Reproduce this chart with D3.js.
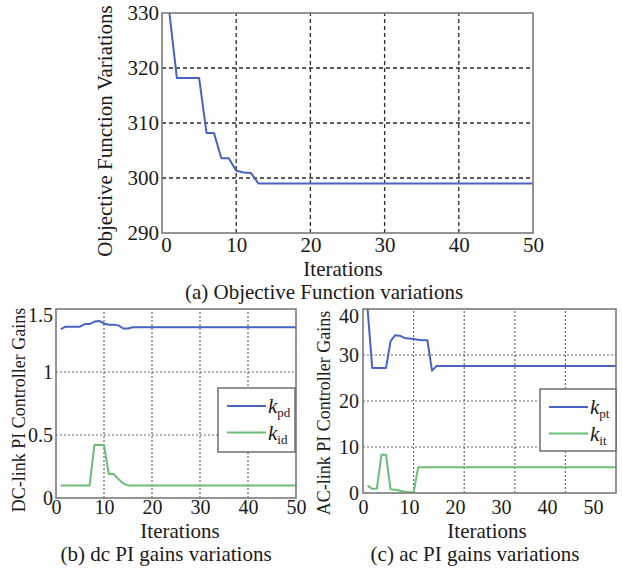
<!DOCTYPE html>
<html><head><meta charset="utf-8">
<script src="https://cdn.jsdelivr.net/npm/d3@7"></script>
<style>
html,body{margin:0;padding:0;background:#fff;}
svg{display:block;font-family:"Liberation Serif","Times New Roman",serif;}
</style></head>
<body>
<svg id="c" width="622" height="570"></svg>
<script>
// ---------- data ----------
const objIter = d3.range(1, 51);
const objective = [330,318.2,318.2,318.2,318.2,308.2,308.2,303.6,303.6,301.3,301.0,300.9,
 299,299,299,299,299,299,299,299,299,299,299,299,299,299,299,299,299,299,299,299,299,299,299,299,299,299,299,299,299,299,299,299,299,299,299,299,299,299];
const objYTicks = [290,300,310,320,330];
const objXTicks = [0,10,20,30,40,50];

const dcIter = d3.range(1, 51);
const kpd = [1.34,1.36,1.36,1.36,1.36,1.38,1.38,1.40,1.405,1.385,1.375,1.375,1.37,1.345,1.345,
 1.355,1.355,1.355,1.355,1.355,1.355,1.355,1.355,1.355,1.355,1.355,1.355,1.355,1.355,1.355,1.355,1.355,1.355,1.355,1.355,
 1.355,1.355,1.355,1.355,1.355,1.355,1.355,1.355,1.355,1.355,1.355,1.355,1.355,1.355,1.355];
const kid = [0.1,0.1,0.1,0.1,0.1,0.1,0.1,0.42,0.42,0.42,0.19,0.19,0.15,0.115,
 0.1,0.1,0.1,0.1,0.1,0.1,0.1,0.1,0.1,0.1,0.1,0.1,0.1,0.1,0.1,0.1,0.1,0.1,0.1,0.1,0.1,0.1,
 0.1,0.1,0.1,0.1,0.1,0.1,0.1,0.1,0.1,0.1,0.1,0.1,0.1,0.1];
const dcYTicks = [0,0.5,1,1.5];
const dcYLabels = ["0","0.5","1","1.5"];
const dcXTicks = [0,10,20,30,40,50];

const acIter = d3.range(1, 56);
const kpt = [40,27.2,27.2,27.2,27.2,33,34.3,34.2,33.7,33.6,33.5,33.3,33.2,33.2,26.6,
 27.6,27.6,27.6,27.6,27.6,27.6,27.6,27.6,27.6,27.6,27.6,27.6,27.6,27.6,27.6,27.6,27.6,27.6,27.6,27.6,
 27.6,27.6,27.6,27.6,27.6,27.6,27.6,27.6,27.6,27.6,27.6,27.6,27.6,27.6,27.6,27.6,27.6,27.6,27.6,27.6];
const kit = [1.6,0.9,0.9,8.3,8.3,0.8,0.7,0.5,0.3,0.15,0.15,
 5.6,5.6,5.6,5.6,5.6,5.6,5.6,5.6,5.6,5.6,5.6,5.6,5.6,5.6,5.6,5.6,5.6,5.6,5.6,5.6,5.6,5.6,
 5.6,5.6,5.6,5.6,5.6,5.6,5.6,5.6,5.6,5.6,5.6,5.6,5.6,5.6,5.6,5.6,5.6,5.6,5.6,5.6,5.6,5.6];
const acYTicks = [0,10,20,30,40];
const acXTicks = [0,10,20,30,40,50];
const acGridTicks = [10,20,30,40]; // grid drawn on the original 0-50 axis

const blue = "#4763c4", green = "#6dbd78";
const svg = d3.select("#c");

function frame(g, x, y){
  const [x0,x1] = x.range(), [y0,y1] = y.range();
  g.append("rect").attr("x",x0).attr("y",y1).attr("width",x1-x0).attr("height",y0-y1)
   .attr("fill","none").attr("stroke","#7a7a7a").attr("stroke-width",1.6);
}
function gridV(g, xs, vals, y, style){
  g.selectAll(null).data(vals).join("line")
   .attr("x1",d=>xs(d)).attr("x2",d=>xs(d)).attr("y1",y.range()[0]).attr("y2",y.range()[1])
   .attr("stroke",style.c).attr("stroke-width",style.w).attr("stroke-dasharray",style.d);
}
function gridH(g, x, vals, y, style){
  g.selectAll(null).data(vals).join("line")
   .attr("x1",x.range()[0]).attr("x2",x.range()[1]).attr("y1",d=>y(d)).attr("y2",d=>y(d))
   .attr("stroke",style.c).attr("stroke-width",style.w).attr("stroke-dasharray",style.d);
}
function axes(g, x, y, xt, yt, fs, xpad, ypad, yfmt, topShift, firstXShift){
  const ax = g.append("g").attr("transform",`translate(0,${y.range()[0]})`)
    .call(d3.axisBottom(x).tickValues(xt).tickSize(0).tickPadding(xpad).tickFormat(d3.format("d")));
  const ay = g.append("g").attr("transform",`translate(${x.range()[0]},0)`)
    .call(d3.axisLeft(y).tickValues(yt).tickSize(0).tickPadding(ypad).tickFormat(yfmt || d3.format("d")));
  [ax,ay].forEach(a=>{ a.select(".domain").remove();
    a.selectAll("text").attr("font-size",fs).attr("fill","#1a1a1a")
     .attr("font-family","'Liberation Serif','Times New Roman',serif"); });
  if (topShift) {
    const top = d3.max(yt);
    ay.selectAll(".tick").filter(d=>d===top).select("text").attr("y", topShift);
  }
  if (firstXShift) {
    const first = d3.min(xt);
    ax.selectAll(".tick").filter(d=>d===first).select("text").attr("x", firstXShift);
  }
}
function label(g, txt, x, y, fs, rot){
  const t = g.append("text").attr("text-anchor","middle").attr("font-size",fs).attr("fill","#1a1a1a").text(txt);
  if (rot) t.attr("transform",`translate(${x},${y}) rotate(-90)`);
  else t.attr("x",x).attr("y",y);
}
function line(g, xs, ys, xv, yv, col){
  g.append("path").datum(xv.map((d,i)=>[d,yv[i]]))
   .attr("fill","none").attr("stroke",col).attr("stroke-width",2).attr("stroke-linejoin","round")
   .attr("d", d3.line().x(d=>xs(d[0])).y(d=>ys(d[1])));
}
function legend(g, x0, y0, w, h, items){
  g.append("rect").attr("x",x0).attr("y",y0).attr("width",w).attr("height",h)
   .attr("fill","#fff").attr("stroke","#6e6e6e").attr("stroke-width",1.5);
  items.forEach((it,i)=>{
    const yy = y0 + 18 + i*26.5;
    g.append("line").attr("x1",x0+9).attr("x2",x0+48).attr("y1",yy).attr("y2",yy)
     .attr("stroke",it.c).attr("stroke-width",2);
    const t = g.append("text").attr("x",x0+50).attr("y",yy+7).attr("font-size",21).attr("fill","#1a1a1a");
    t.append("tspan").attr("font-style","italic").text("k");
    t.append("tspan").attr("font-size",13).attr("dy",4).text(it.s);
  });
}

// ---------- (a) ----------
{
  const g = svg.append("g");
  const x = d3.scaleLinear().domain([0,50]).range([162,533]);
  const y = d3.scaleLinear().domain([290,330]).range([233,13]);
  const st = {c:"#2a2a2a", w:1.3, d:"4,3"};
  gridV(g, x, [10,20,30,40], y, st);
  gridH(g, x, [300,310,320], y, st);
  g.append("clipPath").attr("id","ca").append("rect").attr("x",162).attr("y",13).attr("width",371).attr("height",220);
  const lg = g.append("g").attr("clip-path","url(#ca)");
  line(lg, x, y, objIter, objective, blue);
  frame(g, x, y);
  axes(g, x, y, objXTicks, objYTicks, 21, 4, 3, null, null, 4);
  label(g, "Iterations", 343, 275.5, 21);
  label(g, "(a) Objective Function variations", 324, 299, 21);
  label(g, "Objective Function Variations", 112, 131, 21, true);
}
// ---------- (b) ----------
{
  const g = svg.append("g");
  const x = d3.scaleLinear().domain([0,50]).range([56,296]);
  const y = d3.scaleLinear().domain([0,1.5]).range([498,309]);
  const st = {c:"#6a6a6a", w:1.2, d:"2,2"};
  gridV(g, x, [10,20,30,40], y, st);
  gridH(g, x, [0.5,1], y, st);
  line(g, x, y, dcIter, kpd, blue);
  line(g, x, y, dcIter, kid, green);
  frame(g, x, y);
  axes(g, x, y, dcXTicks, dcYTicks, 20, 2, 3, (d,i)=>dcYLabels[i], 6);
  legend(g, 218, 388, 77, 64, [{c:blue,s:"pd"},{c:green,s:"id"}]);
  label(g, "Iterations", 180, 537.5, 21);
  label(g, "(b) dc PI gains variations", 166, 561, 21);
  label(g, "DC-link PI Controller Gains", 25, 410, 18, true);
}
// ---------- (c) ----------
{
  const g = svg.append("g");
  const x = d3.scaleLinear().domain([0,55]).range([363,616]);
  const xGrid = d3.scaleLinear().domain([0,50]).range([363,616]);
  const y = d3.scaleLinear().domain([0,40]).range([493,309]);
  const st = {c:"#6a6a6a", w:1.2, d:"2,2"};
  gridV(g, xGrid, acGridTicks, y, st);
  gridH(g, x, [10,20,30], y, st);
  g.append("clipPath").attr("id","cc").append("rect").attr("x",363).attr("y",309).attr("width",253).attr("height",184);
  const lg = g.append("g").attr("clip-path","url(#cc)");
  line(lg, x, y, acIter, kpt, blue);
  line(lg, x, y, acIter, kit, green);
  frame(g, x, y);
  axes(g, x, y, acXTicks, acYTicks, 20, 7, 4, null, 7);
  legend(g, 540, 389, 76, 62, [{c:blue,s:"pt"},{c:green,s:"it"}]);
  label(g, "Iterations", 487, 537.5, 21);
  label(g, "(c) ac PI gains variations", 475, 561, 21);
  label(g, "AC-link PI Controller Gains", 330, 413, 18, true);
}
</script>
</body></html>
